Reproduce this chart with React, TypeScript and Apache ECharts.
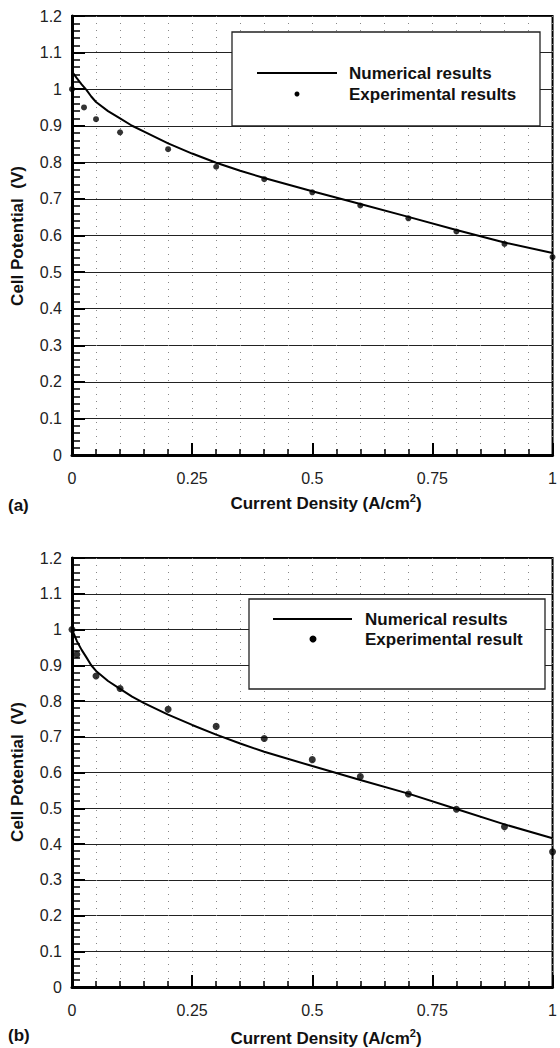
import React, { useEffect, useRef } from "react";
import * as echarts from "echarts";

// Panel (a)
const numAx = [0, 0.01, 0.02, 0.03, 0.04, 0.05, 0.075, 0.1, 0.125, 0.15, 0.2, 0.25, 0.3, 0.35, 0.4, 0.5, 0.6, 0.7, 0.8, 0.9, 1.0];
const numAy = [1.048, 1.03, 1.013, 0.998, 0.98, 0.965, 0.94, 0.92, 0.9, 0.884, 0.852, 0.824, 0.799, 0.777, 0.757, 0.721, 0.686, 0.651, 0.615, 0.581, 0.552];
const expAx = [0, 0.025, 0.05, 0.1, 0.2, 0.3, 0.4, 0.5, 0.6, 0.7, 0.8, 0.9, 1.0];
const expAy = [1.0, 0.95, 0.918, 0.882, 0.836, 0.788, 0.754, 0.718, 0.682, 0.647, 0.611, 0.577, 0.541];

// Panel (b)
const numBx = [0, 0.01, 0.02, 0.03, 0.04, 0.05, 0.075, 0.1, 0.125, 0.15, 0.2, 0.25, 0.3, 0.35, 0.4, 0.5, 0.6, 0.7, 0.8, 0.9, 1.0];
const numBy = [1.0, 0.968, 0.943, 0.922, 0.9, 0.884, 0.856, 0.834, 0.812, 0.794, 0.762, 0.733, 0.706, 0.681, 0.658, 0.618, 0.579, 0.541, 0.498, 0.455, 0.416];
const expBx = [0, 0.01, 0.05, 0.1, 0.2, 0.3, 0.4, 0.5, 0.6, 0.7, 0.8, 0.9, 1.0];
const expBy = [1.0, 0.93, 0.87, 0.835, 0.777, 0.729, 0.695, 0.636, 0.589, 0.54, 0.497, 0.448, 0.378];

const legendA = ["Numerical results", "Experimental results"];
const legendB = ["Numerical results", "Experimental result"];
const xName = "Current Density (A/cm";
const yName = "Cell Potential  (V)";

const FONT = "'Liberation Sans', Arial, Helvetica, sans-serif";

const pairs = (xs: number[], ys: number[]) => xs.map((x, i) => [x, ys[i]]);

function xAxisCfg(gridIndex: number) {
  return {
    type: "value",
    gridIndex,
    min: 0,
    max: 1,
    interval: 0.25,
    axisLine: { show: true, onZero: false, lineStyle: { color: "#000", width: 3 } },
    axisTick: { show: true, inside: true, length: 12, lineStyle: { color: "#000", width: 2 } },
    minorTick: { show: true, splitNumber: 5, length: 6, lineStyle: { color: "#000", width: 1.5 } },
    splitLine: { show: true, lineStyle: { color: "#888", type: [1, 6], width: 1 } },
    minorSplitLine: { show: true, lineStyle: { color: "#888", type: [1, 6], width: 1 } },
    axisLabel: { color: "#222", fontSize: 16, fontFamily: FONT, margin: 15 },
  };
}

function yAxisCfg(gridIndex: number) {
  return {
    type: "value",
    gridIndex,
    min: 0,
    max: 1.2,
    interval: 0.1,
    axisLine: { show: true, onZero: false, lineStyle: { color: "#000", width: 3 } },
    axisTick: { show: true, inside: true, length: 13, lineStyle: { color: "#000", width: 2 } },
    minorTick: { show: true, splitNumber: 5, length: 8, lineStyle: { color: "#000", width: 1.5 } },
    splitLine: { show: true, lineStyle: { color: "#222", width: 1 } },
    axisLabel: { color: "#222", fontSize: 16, fontFamily: FONT, margin: 10 },
  };
}

function legendGraphic(
  box: { x: number; y: number; w: number; h: number },
  lineX1: number,
  lineX2: number,
  y1: number,
  y2: number,
  dotX: number,
  dotR: number,
  textX: number,
  labels: string[]
) {
  return [
    {
      type: "rect",
      z: 100,
      shape: { x: box.x, y: box.y, width: box.w, height: box.h },
      style: { fill: "#fff", stroke: "#222", lineWidth: 1.3 },
    },
    {
      type: "line",
      z: 101,
      shape: { x1: lineX1, y1: y1, x2: lineX2, y2: y1 },
      style: { stroke: "#000", lineWidth: 2 },
    },
    {
      type: "circle",
      z: 101,
      shape: { cx: dotX, cy: y2, r: dotR },
      style: { fill: "#000" },
    },
    {
      type: "text",
      z: 101,
      x: textX,
      y: y1,
      style: {
        text: labels[0],
        fill: "#111",
        font: `bold 17px ${FONT}`,
        textAlign: "left",
        textVerticalAlign: "middle",
      },
    },
    {
      type: "text",
      z: 101,
      x: textX,
      y: y2,
      style: {
        text: labels[1],
        fill: "#111",
        font: `bold 17px ${FONT}`,
        textAlign: "left",
        textVerticalAlign: "middle",
      },
    },
  ];
}

function xNameGraphic(x: number, y: number) {
  return {
    type: "text",
    z: 101,
    x,
    y,
    style: {
      text: `{n|${xName}}{s|2}{n|)}`,
      textAlign: "center",
      textVerticalAlign: "middle",
      rich: {
        n: { font: `bold 17px ${FONT}`, fill: "#111", verticalAlign: "bottom", lineHeight: 20 },
        s: { font: `bold 11px ${FONT}`, fill: "#111", verticalAlign: "top", lineHeight: 20, padding: [0, 0, 8, 0] },
      },
    },
  };
}

function yNameGraphic(x: number, y: number) {
  return {
    type: "text",
    z: 101,
    x,
    y,
    rotation: Math.PI / 2,
    style: {
      text: yName,
      fill: "#111",
      font: `bold 17px ${FONT}`,
      textAlign: "center",
      textVerticalAlign: "middle",
    },
  };
}

function panelLabel(text: string, x: number, y: number) {
  return {
    type: "text",
    z: 101,
    x,
    y,
    style: {
      text,
      fill: "#111",
      font: `bold 17px ${FONT}`,
      textAlign: "left",
      textVerticalAlign: "middle",
    },
  };
}

export default function App() {
  const ref = useRef<HTMLDivElement>(null);

  useEffect(() => {
    if (!ref.current) return;
    const chart = echarts.init(ref.current, undefined, { renderer: "svg" });
    const option = {
      animation: false,
      backgroundColor: "#fff",
      grid: [
        { left: 72, top: 16, width: 487, height: 439, show: true, borderColor: "#000", borderWidth: 2, backgroundColor: "transparent" },
        { left: 72, top: 558, width: 485, height: 429, show: true, borderColor: "#000", borderWidth: 2, backgroundColor: "transparent" },
      ],
      xAxis: [xAxisCfg(0), xAxisCfg(1)],
      yAxis: [yAxisCfg(0), yAxisCfg(1)],
      series: [
        {
          type: "line",
          xAxisIndex: 0,
          yAxisIndex: 0,
          data: pairs(numAx, numAy),
          showSymbol: false,
          smooth: false,
          lineStyle: { color: "#000", width: 2 },
          z: 5,
        },
        {
          type: "scatter",
          xAxisIndex: 0,
          yAxisIndex: 0,
          data: pairs(expAx, expAy),
          symbol: "circle",
          symbolSize: 6,
          itemStyle: { color: "#000" },
          z: 6,
        },
        {
          type: "line",
          xAxisIndex: 1,
          yAxisIndex: 1,
          data: pairs(numBx, numBy),
          showSymbol: false,
          smooth: false,
          lineStyle: { color: "#000", width: 2 },
          z: 5,
        },
        {
          type: "scatter",
          xAxisIndex: 1,
          yAxisIndex: 1,
          data: pairs(expBx, expBy),
          symbol: "circle",
          symbolSize: 7,
          itemStyle: { color: "#000" },
          z: 6,
        },
      ],
      graphic: [
        ...legendGraphic({ x: 232, y: 32, w: 308, h: 94 }, 257, 337, 73, 94, 297, 2.5, 349, legendA),
        ...legendGraphic({ x: 249, y: 599, w: 296, h: 90 }, 273, 352, 619, 639, 313, 3.5, 365, legendB),
        xNameGraphic(326, 502),
        xNameGraphic(326, 1037),
        yNameGraphic(17, 236),
        yNameGraphic(17, 772),
        panelLabel("(a)", 8, 505),
        panelLabel("(b)", 8, 1035),
      ],
    };
    chart.setOption(option as any);
    return () => chart.dispose();
  }, []);

  return (
    <div
      ref={ref}
      style={{ position: "fixed", left: 0, top: 0, width: 560, height: 1048 }}
    />
  );
}
